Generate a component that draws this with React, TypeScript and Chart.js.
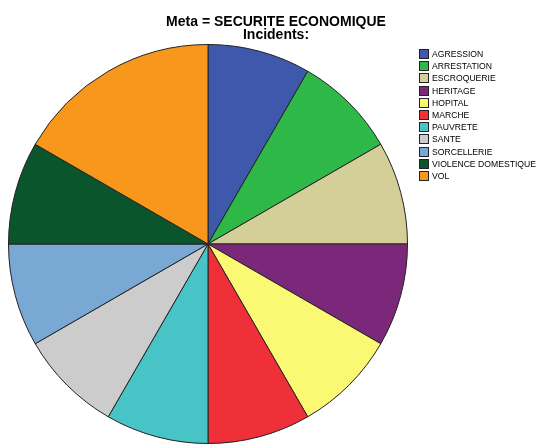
import React, { useEffect, useRef } from "react";
import { Chart, registerables } from "chart.js";

Chart.register(...registerables);

const categories = [
  "AGRESSION",
  "ARRESTATION",
  "ESCROQUERIE",
  "HERITAGE",
  "HOPITAL",
  "MARCHE",
  "PAUVRETE",
  "SANTE",
  "SORCELLERIE",
  "VIOLENCE DOMESTIQUE",
  "VOL",
];
const values = [1, 1, 1, 1, 1, 1, 1, 1, 1, 1, 2];
const colors = [
  "#3E58AC",
  "#2EB848",
  "#D4CE98",
  "#7B287A",
  "#FBF873",
  "#EF3038",
  "#48C3C6",
  "#CCCCCC",
  "#79A8D5",
  "#0A552C",
  "#F7981D",
];
const titleLines = ["Meta = SECURITE ECONOMIQUE", "Incidents:"];

const overlay = {
  id: "overlay",
  afterDraw(chart: any) {
    const ctx = chart.ctx;
    ctx.save();
    ctx.fillStyle = "#000";
    ctx.textAlign = "center";
    ctx.textBaseline = "alphabetic";
    ctx.font = "bold 14px 'Liberation Sans', Arial, sans-serif";
    ctx.fillText(titleLines[0], 276, 26);
    ctx.fillText(titleLines[1], 276, 39);
    ctx.textAlign = "left";
    ctx.textBaseline = "middle";
    ctx.font = "9px 'Liberation Sans', Arial, sans-serif";
    const longest = Math.max(...categories.map((c) => ctx.measureText(c).width));
    const size = Math.min(9, (9 * 104) / longest);
    ctx.font = `${size.toFixed(2)}px 'Liberation Sans', Arial, sans-serif`;
    const x0 = 419;
    const y0 = 49;
    const step = 12.2;
    categories.forEach((c, i) => {
      const y = Math.round(y0 + i * step);
      ctx.fillStyle = colors[i];
      ctx.fillRect(x0, y, 10, 10);
      ctx.strokeStyle = "#222";
      ctx.lineWidth = 1;
      ctx.strokeRect(x0 + 0.5, y + 0.5, 9, 9);
      ctx.fillStyle = "#000";
      ctx.fillText(c, 432, y + 5.5);
    });
    ctx.restore();
  },
};

export default function App() {
  const ref = useRef<HTMLCanvasElement>(null);
  useEffect(() => {
    document.body.style.margin = "0";
    const chart = new Chart(ref.current!, {
      type: "pie",
      data: {
        labels: categories,
        datasets: [
          {
            data: values,
            backgroundColor: colors,
            borderColor: "#222",
            borderWidth: 1,
          },
        ],
      },
      options: {
        animation: false,
        responsive: false,
        events: [],
        layout: { padding: { left: 8, top: 44, right: 129, bottom: 0 } },
        plugins: {
          legend: { display: false },
          title: { display: false },
          tooltip: { enabled: false },
        },
      },
      plugins: [overlay],
    });
    return () => chart.destroy();
  }, []);
  return (
    <div style={{ width: 537, height: 444, background: "#fff" }}>
      <canvas ref={ref} width={537} height={444} style={{ display: "block" }} />
    </div>
  );
}
